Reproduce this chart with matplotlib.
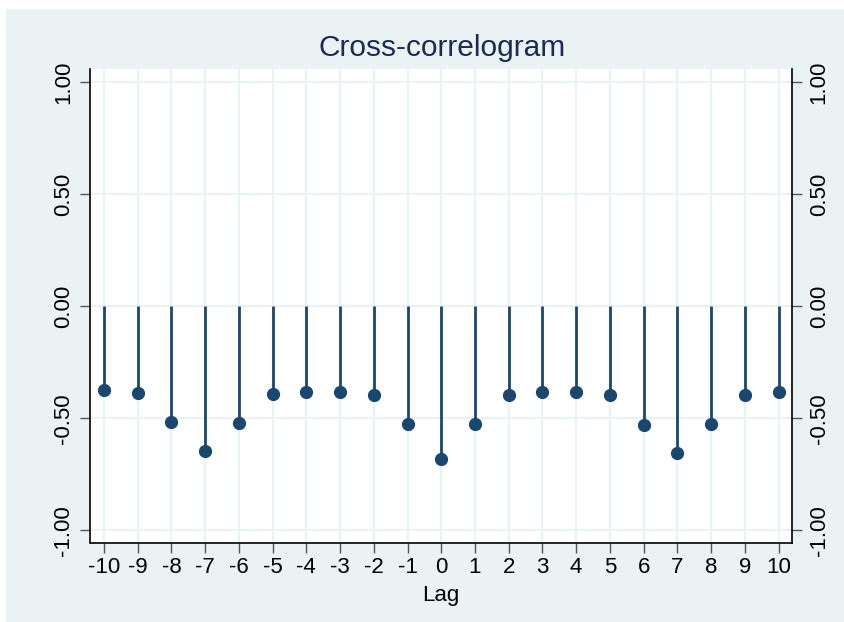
import numpy as np
import matplotlib.pyplot as plt
from matplotlib.patches import Rectangle

plt.rcParams['font.family'] = ['Liberation Sans', 'DejaVu Sans']

lags = np.arange(-10, 11)
corr = [-0.374, -0.386, -0.517, -0.645, -0.521, -0.392, -0.382, -0.382, -0.395, -0.527,
        -0.683, -0.527, -0.395, -0.384, -0.384, -0.395, -0.530, -0.655, -0.526, -0.395, -0.382]
yticks = [-1.0, -0.5, 0.0, 0.5, 1.0]
ytick_labels = ['-1.00', '-0.50', '0.00', '0.50', '1.00']

navy = '#1A476F'
bg = '#EAF2F3'

fig = plt.figure(figsize=(8.45, 6.22), dpi=100)
fig.patch.set_facecolor('white')
# light background panel behind everything (Stata s2color look)
fig.add_artist(Rectangle((6 / 845, 0), 1, 1 - 9 / 622, transform=fig.transFigure,
                         facecolor=bg, edgecolor='none', zorder=-10))

ax = fig.add_axes([90.5 / 845, 1 - 543 / 622, 701.5 / 845, 474 / 622])
ax.set_facecolor('white')
ax.set_xlim(-10.4, 10.4)
ax.set_ylim(-1.056, 1.058)

ax.vlines(lags, -1.056, 1.058, color=bg, lw=1.6, zorder=0)
ax.hlines(yticks, -10.4, 10.4, color=bg, lw=1.6, zorder=0)

ax.vlines(lags, 0, corr, color=navy, lw=2.0, zorder=2)
ax.plot(lags, corr, 'o', color=navy, ms=8.5, zorder=3)

ax.set_xticks(lags)
ax.set_xticklabels([str(l) for l in lags])
ax.set_yticks(yticks)
ax.set_yticklabels(ytick_labels, rotation=90, va='center')
ax.tick_params(axis='both', labelsize=16, length=7, width=1, color='#555555', pad=3)
ax.tick_params(axis='y', pad=5)
for s in ['top', 'right']:
    ax.spines[s].set_visible(False)
for s in ['left', 'bottom']:
    ax.spines[s].set_linewidth(1.2)

ax2 = ax.twinx()
ax2.set_ylim(ax.get_ylim())
ax2.set_yticks(yticks)
ax2.set_yticklabels(ytick_labels, rotation=90, va='center')
ax2.tick_params(axis='y', labelsize=16, length=7, width=1, color='#555555', pad=5)
for s in ['top', 'left', 'bottom']:
    ax2.spines[s].set_visible(False)
ax2.spines['right'].set_linewidth(1.2)

ax.set_xlabel('Lag', fontsize=16, labelpad=5)
fig.text(442 / 845, 1 - 48 / 622, 'Cross-correlogram', fontsize=21.5, color='#1C2B53',
         ha='center', va='center')

fig.savefig('out.png', dpi=100)
